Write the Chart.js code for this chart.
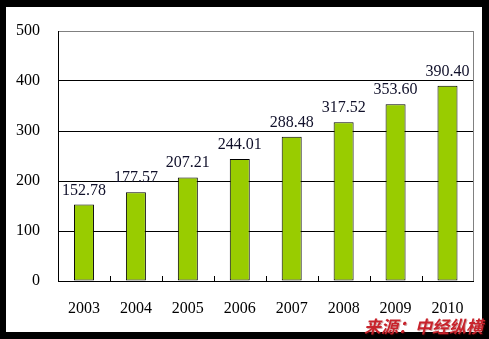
<!DOCTYPE html>
<html>
<head>
<meta charset="utf-8">
<script src="https://cdn.jsdelivr.net/npm/chart.js@4"></script>
<style>
  html, body { margin: 0; padding: 0; background: #000; }
  #frame { position: relative; width: 489px; height: 339px; background: #000; overflow: hidden; }
  #panel { position: absolute; left: 6px; top: 7px; width: 476px; height: 325px; background: #fff; }
  #source {
    position: absolute; left: 364px; top: 313px;
    font: italic bold 17px "Noto Sans CJK SC", sans-serif;
    color: #c8232c; white-space: nowrap;
    text-shadow: 1px 1px 0 rgba(120, 0, 0, 0.35);
  }
</style>
</head>
<body>
<div id="frame">
  <div id="panel"><canvas id="chart" width="476" height="325"></canvas></div>
  <div id="source">来源：中经纵横</div>
</div>
<script>
const years = ['2003', '2004', '2005', '2006', '2007', '2008', '2009', '2010'];
const values = [152.78, 177.57, 207.21, 244.01, 288.48, 317.52, 353.60, 390.40];
const yTicks = [0, 100, 200, 300, 400, 500];

const serif = '"Liberation Serif", "DejaVu Serif", serif';

// value labels above each bar, plus small inward ticks between categories
const extras = {
  id: 'extras',
  afterDatasetsDraw(chart) {
    const { ctx, chartArea, scales } = chart;
    const x = scales.x;

    ctx.save();
    ctx.strokeStyle = '#000';
    ctx.lineWidth = 1;
    const step = x.getPixelForValue(1) - x.getPixelForValue(0);
    for (let i = 1; i < years.length; i++) {
      const px = Math.round(x.getPixelForValue(i) - step / 2) + 0.5;
      ctx.beginPath();
      ctx.moveTo(px, chartArea.bottom);
      ctx.lineTo(px, chartArea.bottom - 5);
      ctx.stroke();
    }
    // right border of the plot
    ctx.strokeStyle = '#808080';
    ctx.beginPath();
    ctx.moveTo(Math.round(chartArea.right) + 0.5, chartArea.top);
    ctx.lineTo(Math.round(chartArea.right) + 0.5, chartArea.bottom);
    ctx.stroke();

    ctx.fillStyle = '#10102a';
    ctx.font = '16px ' + serif;
    ctx.textAlign = 'center';
    ctx.textBaseline = 'alphabetic';
    chart.getDatasetMeta(0).data.forEach((bar, i) => {
      ctx.fillText(values[i].toFixed(2), bar.x, bar.y - 10);
    });
    ctx.restore();
  }
};

new Chart(document.getElementById('chart'), {
  type: 'bar',
  data: {
    labels: years,
    datasets: [{
      data: values,
      backgroundColor: '#99cc00',
      borderColor: '#000',
      borderWidth: 1,
      borderSkipped: false,
      categoryPercentage: 1,
      barPercentage: 0.385
    }]
  },
  options: {
    responsive: false,
    animation: false,
    layout: { padding: { top: 24, right: 8, left: 0, bottom: 0 } },
    plugins: { legend: { display: false }, tooltip: { enabled: false } },
    scales: {
      x: {
        offset: true,
        grid: { display: false, drawTicks: false },
        border: { display: true, color: '#000', width: 1 },
        ticks: { color: '#000', padding: 18, font: { family: serif, size: 16 } },
        afterFit(scale) { scale.height = 51; }
      },
      y: {
        min: 0,
        max: 500,
        afterBuildTicks(scale) { scale.ticks = yTicks.map(v => ({ value: v })); },
        grid: {
          drawTicks: false,
          color: (c) => (c.tick && c.tick.value === 500 ? '#808080' : '#000'),
          lineWidth: 1
        },
        border: { display: true, color: '#000', width: 1 },
        ticks: { color: '#000', padding: 18, font: { family: serif, size: 16 } },
        afterFit(scale) {
          scale.width = 52;
          // keep the plot top fixed by the layout padding alone
          scale.paddingTop = 0;
          scale.paddingBottom = 0;
        }
      }
    }
  },
  plugins: [extras]
});
</script>
</body>
</html>
